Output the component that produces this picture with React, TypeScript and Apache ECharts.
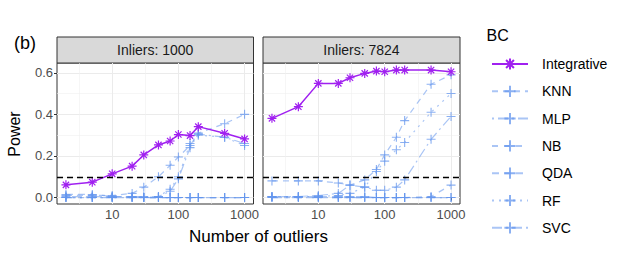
import { useEffect, useRef } from "react";
import * as echarts from "echarts";

// ---------- data ----------
const outliers = [2, 5, 10, 20, 30, 50, 75, 100, 150, 200, 500, 1000];
const methods = ["Integrative", "KNN", "MLP", "NB", "QDA", "RF", "SVC"];
const panelTitles = ["Inliers: 1000", "Inliers: 7824"];

// Panel 1 (Inliers: 1000)
const p1Integrative = [0.061, 0.074, 0.114, 0.151, 0.205, 0.253, 0.272, 0.303, 0.298, 0.341, 0.309, 0.282];
const p1KNN = [0.01, 0.01, 0.01, 0.02, 0.05, 0.1, 0.155, 0.195, 0.25, 0.31, 0.355, 0.4];
const p1MLP = [0.005, 0.005, 0.005, 0.005, 0.005, 0.005, 0.03, 0.09, 0.24, 0.305, 0.29, 0.26];
const p1NB = [0, 0, 0, 0, 0, 0, 0, 0, 0, 0, 0, 0];
const p1QDA = [0.015, 0.015, 0.005, 0.005, 0, 0, 0, 0, 0, 0, 0, 0];
const p1RF = [0, 0, 0, 0, 0, 0.005, 0.04, 0.1, 0.26, 0.3, 0.29, 0.25];
const p1SVC = [0, 0, 0, 0, 0, 0, 0, 0, 0, 0, 0, 0];

// Panel 2 (Inliers: 7824)
const p2Integrative = [0.381, 0.437, 0.549, 0.549, 0.576, 0.597, 0.608, 0.605, 0.613, 0.613, 0.613, 0.605];
const p2KNN = [0.08, 0.08, 0.08, 0.07, 0.06, 0.085, 0.135, 0.205, 0.29, 0.37, 0.545, 0.59];
const p2MLP = [0.005, 0.005, 0.01, 0.02, 0.06, 0.05, 0.035, 0.035, 0.05, 0.085, 0.28, 0.39];
const p2NB = [0, 0, 0, 0, 0, 0, 0, 0, 0, 0, 0.005, 0.06];
const p2QDA = [0.005, 0.005, 0.005, 0.005, 0.005, 0.005, 0, 0, 0, 0, 0, 0];
const p2RF = [0.005, 0.005, 0.005, 0.01, 0.02, 0.05, 0.125, 0.175, 0.23, 0.265, 0.41, 0.5];
const p2SVC = [0, 0, 0, 0, 0, 0, 0, 0, 0, 0, 0, 0];

const panelData = [
  [p1Integrative, p1KNN, p1MLP, p1NB, p1QDA, p1RF, p1SVC],
  [p2Integrative, p2KNN, p2MLP, p2NB, p2QDA, p2RF, p2SVC],
];

const xTickValues = [10, 100, 1000];
const xMinorValues = [3.162, 31.62, 316.2];
const yTickValues = [0, 0.2, 0.4, 0.6];
const yMinorValues = [0.1, 0.3, 0.5];
const threshold = 0.1;

// ---------- styling ----------
const FONT = "'Liberation Sans', Arial, Helvetica, sans-serif";
const PURPLE = "#A020F0";
const BLUE = "#6495ED";
const dashes: any = {
  Integrative: "solid",
  KNN: [6, 5],
  MLP: [2, 4, 10, 4],
  NB: [6, 6],
  QDA: [7, 5],
  RF: [2, 5],
  SVC: [10, 4, 2, 4],
};
const PLUS = "path://M0,5L10,5M5,0L5,10";
const STAR = "path://M0,5L10,5M5,0L5,10M1.5,1.5L8.5,8.5M1.5,8.5L8.5,1.5";

const grids = [
  { left: 57, top: 63, width: 196.5, height: 141 },
  { left: 263, top: 63, width: 197, height: 141 },
];
const X_MIN = 0.166;
const X_MAX = 3.135;
const Y_MIN = -0.031;
const Y_MAX = 0.647;

function buildOption() {
  const xAxis: any[] = [];
  const yAxis: any[] = [];
  const series: any[] = [];
  grids.forEach((_, i) => {
    xAxis.push({
      type: "value",
      gridIndex: i,
      min: X_MIN,
      max: X_MAX,
      axisLine: { show: false },
      axisTick: {
        show: true,
        length: 3,
        lineStyle: { color: "#333333", width: 1 },
        customValues: xTickValues.map((v) => Math.log10(v)),
      },
      axisLabel: {
        show: true,
        customValues: xTickValues.map((v) => Math.log10(v)),
        formatter: (v: number) => String(Math.round(Math.pow(10, v))),
        fontSize: 13,
        color: "#4D4D4D",
        fontFamily: FONT,
        margin: 4,
      },
      splitLine: { show: true, lineStyle: { color: "#EBEBEB", width: 1 } },
    });
    xAxis.push({
      type: "value",
      gridIndex: i,
      min: X_MIN,
      max: X_MAX,
      position: "top",
      axisLine: { show: false },
      axisTick: { show: false, customValues: xMinorValues.map((v) => Math.log10(v)) },
      axisLabel: { show: false },
      splitLine: { show: true, lineStyle: { color: "#F0F0F0", width: 0.6 } },
    });
    yAxis.push({
      type: "value",
      gridIndex: i,
      min: Y_MIN,
      max: Y_MAX,
      axisLine: { show: false },
      axisTick: {
        show: i === 0,
        length: 3,
        lineStyle: { color: "#333333", width: 1 },
        customValues: yTickValues,
      },
      axisLabel: {
        show: i === 0,
        customValues: yTickValues,
        formatter: (v: number) => v.toFixed(1),
        fontSize: 13,
        color: "#4D4D4D",
        fontFamily: FONT,
        margin: 4,
      },
      splitLine: { show: true, lineStyle: { color: "#EBEBEB", width: 1 } },
    });
    yAxis.push({
      type: "value",
      gridIndex: i,
      min: Y_MIN,
      max: Y_MAX,
      position: "right",
      axisLine: { show: false },
      axisTick: { show: false, customValues: yMinorValues },
      axisLabel: { show: false },
      splitLine: { show: true, lineStyle: { color: "#F0F0F0", width: 0.6 } },
    });

    methods.forEach((m, k) => {
      const vals = panelData[i][k];
      const isInt = m === "Integrative";
      const s: any = {
        name: m,
        type: "line",
        xAxisIndex: 2 * i,
        yAxisIndex: 2 * i,
        data: outliers.map((x, j) => [Math.log10(x), vals[j]]),
        symbol: isInt ? STAR : PLUS,
        symbolSize: 9,
        showSymbol: true,
        z: isInt ? 4 : 3,
        lineStyle: {
          color: isInt ? PURPLE : BLUE,
          width: isInt ? 1.5 : 1.2,
          type: dashes[m],
          opacity: isInt ? 1 : 0.55,
        },
        itemStyle: {
          color: isInt ? PURPLE : "rgba(100,149,237,0.75)",
          borderColor: isInt ? PURPLE : "rgba(100,149,237,0.75)",
          borderWidth: isInt ? 1.2 : 1.1,
        },
        emphasis: { disabled: true },
        silent: true,
      };
      if (isInt) {
        s.markLine = {
          silent: true,
          symbol: ["none", "none"],
          label: { show: false },
          lineStyle: { color: "#000000", type: [6, 4], width: 1.4 },
          data: [{ yAxis: threshold }],
        };
      }
      series.push(s);
    });
  });

  const graphic: any[] = [];
  grids.forEach((g, i) => {
    graphic.push({
      type: "rect",
      shape: { x: g.left, y: 37, width: g.width, height: 26 },
      style: { fill: "#D9D9D9", stroke: "#333333", lineWidth: 1 },
      silent: true,
    });
    graphic.push({
      type: "text",
      x: g.left + g.width / 2,
      y: 50,
      style: {
        text: panelTitles[i],
        fontSize: 14,
        fontFamily: FONT,
        fill: "#1A1A1A",
        textAlign: "center",
        textVerticalAlign: "middle",
      },
      silent: true,
    });
  });
  graphic.push({
    type: "text",
    x: 14,
    y: 43,
    style: { text: "(b)", fontSize: 18, fontFamily: FONT, fill: "#000", textAlign: "left", textVerticalAlign: "middle" },
  });
  graphic.push({
    type: "text",
    x: 14.5,
    y: 134,
    rotation: Math.PI / 2,
    style: { text: "Power", fontSize: 16, fontFamily: FONT, fill: "#000", textAlign: "center", textVerticalAlign: "middle" },
  });
  graphic.push({
    type: "text",
    x: 258.5,
    y: 236,
    style: {
      text: "Number of outliers",
      fontSize: 17,
      fontFamily: FONT,
      fill: "#000",
      textAlign: "center",
      textVerticalAlign: "middle",
    },
  });
  graphic.push({
    type: "text",
    x: 486.5,
    y: 35.5,
    style: { text: "BC", fontSize: 16, fontFamily: FONT, fill: "#000", textAlign: "left", textVerticalAlign: "middle" },
  });

  return {
    animation: false,
    backgroundColor: "#FFFFFF",
    grid: grids.map((g) => ({ ...g, show: true, borderColor: "#333333", borderWidth: 1, backgroundColor: "#FFFFFF" })),
    xAxis,
    yAxis,
    series,
    graphic,
    legend: {
      orient: "vertical",
      left: 486,
      top: 52,
      itemWidth: 36,
      itemHeight: 14,
      itemGap: 13.3,
      selectedMode: false,
      data: methods,
      textStyle: { fontSize: 14, fontFamily: FONT, color: "#000", lineHeight: 14, padding: [0, 0, 0, 9] },
    },
  };
}

export default function App() {
  const ref = useRef<HTMLDivElement>(null);
  useEffect(() => {
    if (!ref.current) return;
    const chart = echarts.init(ref.current, null, { renderer: "svg" });
    chart.setOption(buildOption() as any);
    return () => chart.dispose();
  }, []);
  return <div ref={ref} style={{ width: 623, height: 255, position: "absolute", left: 0, top: 0 }} />;
}
